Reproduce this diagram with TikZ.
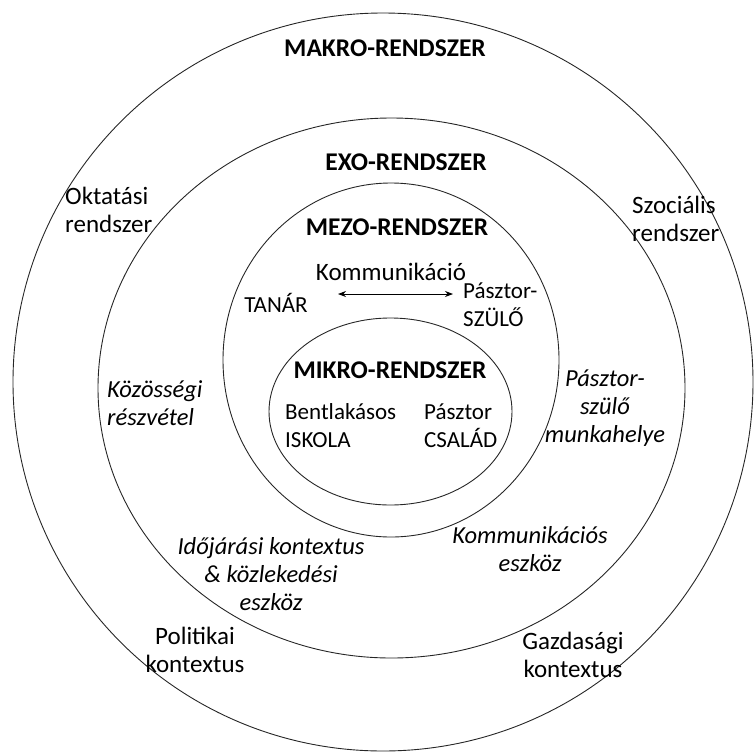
\documentclass[tikz,border=0pt]{standalone}
\usepackage{fontspec}
\setmainfont{Carlito}
\usepackage{xcolor}
\usepackage{tikz}
\usetikzlibrary{arrows.meta}
\usetikzlibrary{calc}
\usetikzlibrary{positioning}

\begin{document}
\begin{tikzpicture}[x=1pt,y=-1pt,>={Stealth[length=8pt,width=6pt]},
                    ring/.style={draw=black!85,line width=0.9pt},
                    system/.style={font=\fontsize{25.5}{30}\selectfont\bfseries},
                    plain/.style={font=\fontsize{23}{27.5}\selectfont,inner sep=0pt},
                    outer/.style={font=\fontsize{25}{28}\selectfont,inner sep=0pt},
                    factor/.style={font=\fontsize{24.5}{28}\selectfont\itshape,inner sep=0pt}]

    \useasboundingbox (0,0) rectangle (755,753);

    % the four nested systems
    \coordinate (cmakro) at (383,382);
    \coordinate (cexo)   at (391.5,388);
    \coordinate (cmezo)  at (391,360);
    \coordinate (cmikro) at (390.5,411.5);

    \draw[ring] (cmakro) ellipse [x radius=370pt, y radius=369pt];
    \draw[ring] (cexo)   ellipse [x radius=293.5pt, y radius=270pt];
    \draw[ring] (cmezo)  ellipse [x radius=168pt, y radius=177pt];
    \draw[ring] (cmikro) ellipse [x radius=121.5pt, y radius=93.5pt];

    \node[system] (makro) at (385,48)  {MAKRO-RENDSZER};
    \node[system] (exo)   at (406,162) {EXO-RENDSZER};
    \node[system] (mezo)  at (397,227) {MEZO-RENDSZER};
    \node[system] (mikro) at (390,370) {MIKRO-RENDSZER};

    % mezo
    \node[plain,font=\fontsize{25}{30}\selectfont] (komm) at (391,272) {Kommunikáció};
    \node[plain] (tanar) at (276,303) {TANÁR};
    \node[plain,align=left,anchor=west] (szulo) at (463,304.5) {Pásztor-\\SZÜLŐ};
    \coordinate (kommL) at (338,294);
    \coordinate (kommR) at (453,294);
    \draw[<->,line width=0.8pt] (kommL) -- (kommR);

    % mikro
    \node[plain,align=left,anchor=west] (iskola) at (285,425.5) {Bentlakásos\\ISKOLA};
    \node[plain,align=left,anchor=west] (csalad) at (424,425.5) {Pásztor\\CSALÁD};

    % exo
    \node[factor,align=left,anchor=west] (kozosseg) at (107,403.5) {Közösségi\\részvétel};
    \node[factor,align=center] (munkahely) at (605,408) {Pásztor-\\szülő\\munkahelye};
    \node[factor,align=center] (idojaras) at (271,574.5) {Időjárási kontextus\\\& közlekedési\\eszköz};
    \node[factor,align=center] (eszkoz) at (530,549) {Kommunikációs\\eszköz};

    % makro
    \node[outer,align=left,anchor=west] (oktatas) at (65,210) {Oktatási\\rendszer};
    \node[outer,align=left,anchor=west] (szocial) at (632,219) {Szociális\\rendszer};
    \node[outer,align=center] (politika) at (195,650) {Politikai\\kontextus};
    \node[outer,align=center] (gazdasag) at (573,654.5) {Gazdasági\\kontextus};
\end{tikzpicture}
\end{document}
